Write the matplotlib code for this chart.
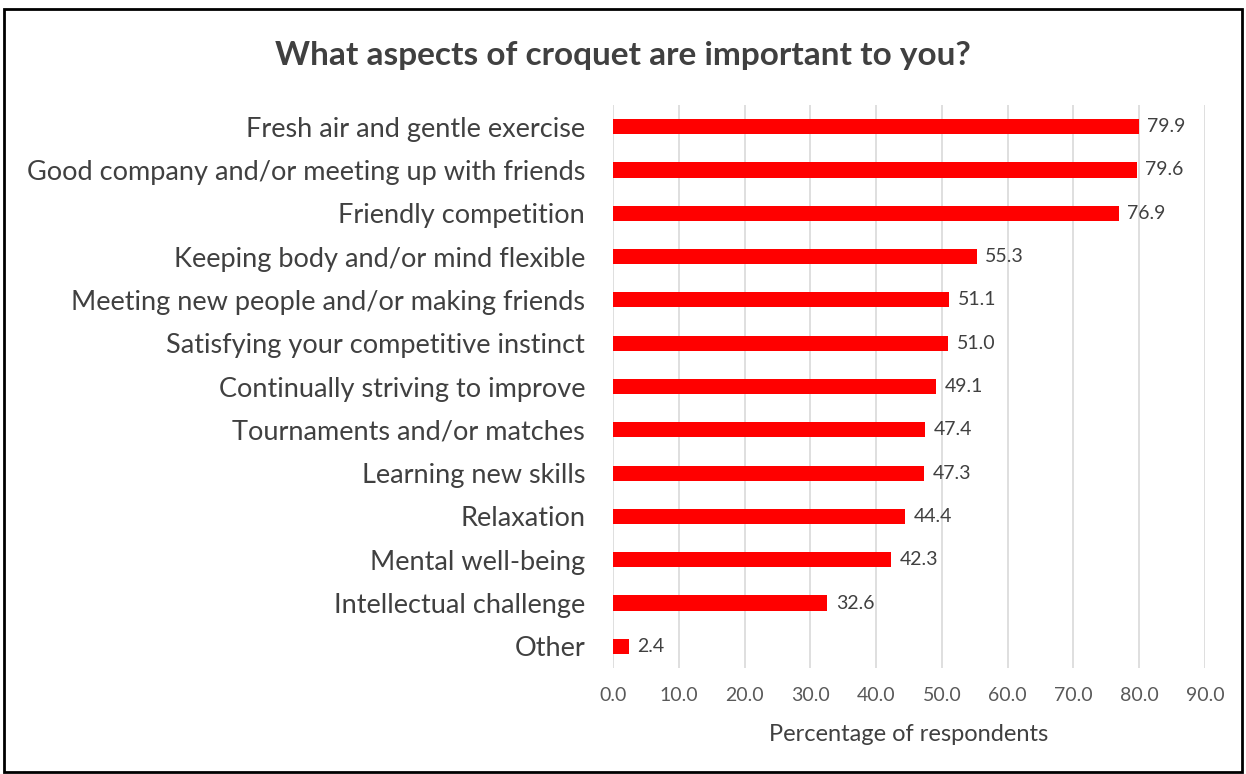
import matplotlib
matplotlib.use('Agg')
import matplotlib.pyplot as plt
from matplotlib.patches import Rectangle

plt.rcParams['font.family'] = ['Lato', 'DejaVu Sans']

# Survey data, top to bottom as shown
aspects = ['Fresh air and gentle exercise',
           'Good company and/or meeting up with friends',
           'Friendly competition',
           'Keeping body and/or mind flexible',
           'Meeting new people and/or making friends',
           'Satisfying your competitive instinct',
           'Continually striving to improve',
           'Tournaments and/or matches',
           'Learning new skills',
           'Relaxation',
           'Mental well-being',
           'Intellectual challenge',
           'Other']
percent = [79.9, 79.6, 76.9, 55.3, 51.1, 51.0, 49.1, 47.4, 47.3, 44.4, 42.3, 32.6, 2.4]
x_ticks = [0, 10, 20, 30, 40, 50, 60, 70, 80, 90]

fig = plt.figure(figsize=(12.46, 7.74), dpi=100)
ax = fig.add_axes([613 / 1246, 1 - 668 / 774, (1205 - 613) / 1246, (668 - 105) / 774])

y = list(range(len(aspects)))
ax.barh(y, percent, height=0.35, color='#ff0000', zorder=3)

# value labels next to each bar
for yi, v in zip(y, percent):
    ax.text(v + 1.3, yi, f'{v:.1f}', va='center', ha='left', fontsize=14, color='#404040')

ax.set_xlim(0, 90)
ax.set_ylim(len(aspects) - 0.5, -0.5)
ax.set_xticks(x_ticks)
ax.set_xticklabels([f'{t:.1f}' for t in x_ticks], fontsize=14, color='#595959')
ax.set_yticks(y)
ax.set_yticklabels(aspects, fontsize=19.5, color='#404040')
ax.tick_params(axis='both', length=0)
ax.tick_params(axis='x', pad=14)
ax.tick_params(axis='y', pad=20)
ax.grid(axis='x', color='#d9d9d9', linewidth=1.2, zorder=0)
for s in ax.spines.values():
    s.set_visible(False)

ax.set_xlabel('Percentage of respondents', fontsize=17, color='#404040', labelpad=14)
fig.text(0.5, 1 - 55 / 774, 'What aspects of croquet are important to you?',
         ha='center', va='center', fontsize=24, fontweight='bold', color='#404040')

# outer border of the chart area
fig.patches.append(Rectangle((0.003, 0.003), 0.994, 0.985, transform=fig.transFigure,
                             fill=False, edgecolor='black', linewidth=2))

fig.savefig('out.png', dpi=100)
